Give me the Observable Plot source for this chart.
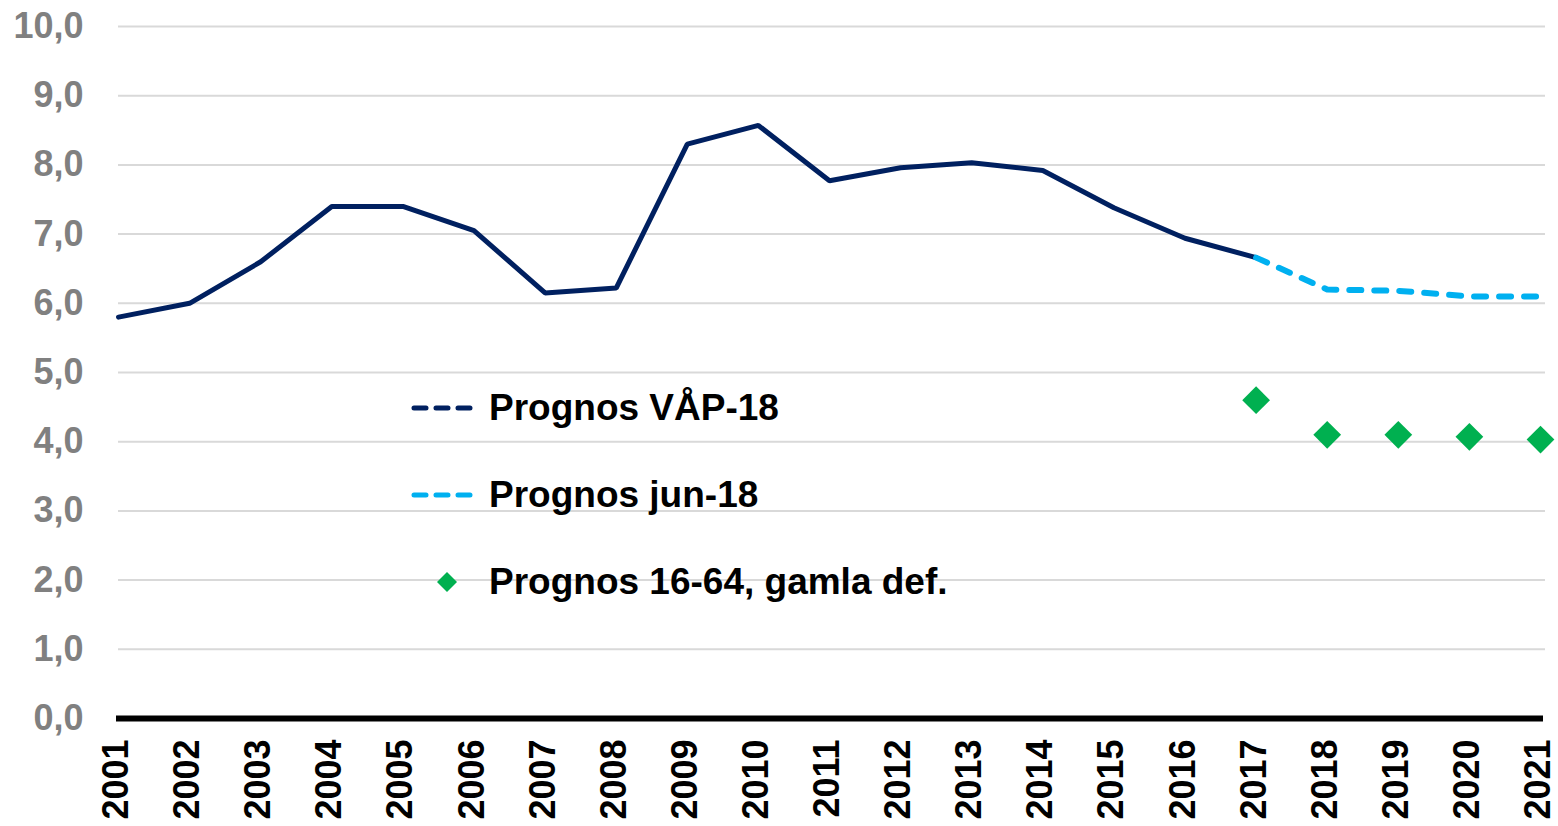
<!DOCTYPE html>
<html>
<head>
<meta charset="utf-8">
<script src="https://cdn.jsdelivr.net/npm/d3@7"></script>
<script src="https://cdn.jsdelivr.net/npm/@observablehq/plot@0.6"></script>
<style>
  html, body { margin: 0; padding: 0; background: #fff; }
  #wrap { position: relative; width: 1558px; height: 826px; font-family: "Liberation Sans", Arial, sans-serif; }
  .leg { position: absolute; left: 0; top: 0; font-weight: bold; font-size: 37px; color: #000; }
  .row { position: absolute; white-space: nowrap; display: flex; align-items: center; height: 40px; }
  .row svg { display: block; }
</style>
</head>
<body>
<div id="wrap"></div>
<script>
// ---- data ----
const yearsHist = [2001,2002,2003,2004,2005,2006,2007,2008,2009,2010,2011,2012,2013,2014,2015,2016,2017];
const valuesHist = [5.8,6.0,6.6,7.4,7.4,7.05,6.15,6.22,8.3,8.57,7.77,7.96,8.03,7.92,7.38,6.94,6.66];
const yearsForecast = [2017,2018,2019,2020,2021];
const valuesVap18 = [6.66,6.2,6.18,6.1,6.1];
const valuesJun18 = [6.66,6.2,6.18,6.1,6.1];
const yearsOld = [2017,2018,2019,2020,2021];
const valuesOld = [4.6,4.1,4.1,4.07,4.03];
const yTicks = [0,1,2,3,4,5,6,7,8,9,10];
const xTicks = d3.range(2001, 2022);
const legendLabels = ["Prognos VÅP-18", "Prognos jun-18", "Prognos 16-64, gamla def."];

const navy = "#002060", lightBlue = "#00b0f0", green = "#00b050";

const hist = yearsHist.map((x, i) => ({x, y: valuesHist[i]}));
const vap = yearsForecast.map((x, i) => ({x, y: valuesVap18[i]}));
const jun = yearsForecast.map((x, i) => ({x, y: valuesJun18[i]}));
const old = yearsOld.map((x, i) => ({x, y: valuesOld[i]}));

const chart = Plot.plot({
  width: 1558,
  height: 826,
  marginLeft: 118,
  marginRight: 18,
  marginTop: 26,
  marginBottom: 108,
  style: { fontFamily: "'Liberation Sans', Arial, sans-serif", background: "#fff" },
  x: { domain: [2001, 2021], type: "linear" },
  y: { domain: [0, 10] },
  marks: [
    Plot.gridY(yTicks.filter(d => d > 0), { stroke: "#d9d9d9", strokeOpacity: 1, strokeWidth: 2, insetRight: -5 }),
    Plot.axisY(yTicks, {
      tickSize: 0, tickPadding: 35, fontSize: 36, fontWeight: "bold", fill: "#808080",
      tickFormat: d => d.toFixed(1).replace(".", ","), label: null
    }),
    Plot.axisX(xTicks, {
      tickSize: 0, tickPadding: 21, tickRotate: -90, fontSize: 36, fontWeight: "bold", fill: "#000",
      tickFormat: d => String(d), label: null, dx: -2
    }),
    Plot.ruleY([0], { stroke: "#000", strokeWidth: 6, insetLeft: -2, insetRight: -3 }),
    Plot.line(hist, { x: "x", y: "y", stroke: navy, strokeWidth: 5, strokeLinejoin: "miter" }),
    Plot.line(vap, { x: "x", y: "y", stroke: navy, strokeWidth: 4, strokeDasharray: "12,13", strokeLinecap: "round" }),
    Plot.line(jun, { x: "x", y: "y", stroke: lightBlue, strokeWidth: 6, strokeDasharray: "12,13", strokeLinecap: "round" }),
    Plot.dot(old, { x: "x", y: "y", symbol: "diamond2", fill: green, stroke: "none", r: 12.5 })
  ]
});

const wrap = document.getElementById("wrap");
wrap.appendChild(chart);

// legend overlay (inside plot area)
const leg = document.createElement("div");
leg.className = "leg";
const rows = [
  { top: 388, sample: `<svg width="76" height="40"><line x1="4" y1="20" x2="68" y2="20" stroke="${navy}" stroke-width="5" stroke-dasharray="12,10" stroke-linecap="round"/></svg>` },
  { top: 475, sample: `<svg width="76" height="40"><line x1="4" y1="20" x2="68" y2="20" stroke="${lightBlue}" stroke-width="5" stroke-dasharray="12,10" stroke-linecap="round"/></svg>` },
  { top: 562, sample: `<svg width="76" height="40"><path d="M37,10 L47,20 L37,30 L27,20 Z" fill="${green}"/></svg>` }
];
rows.forEach((r, i) => {
  const d = document.createElement("div");
  d.className = "row";
  d.style.left = "410px";
  d.style.top = r.top + "px";
  d.innerHTML = r.sample + `<span style="margin-left:3px">${legendLabels[i]}</span>`;
  leg.appendChild(d);
});
wrap.appendChild(leg);
</script>
</body>
</html>
